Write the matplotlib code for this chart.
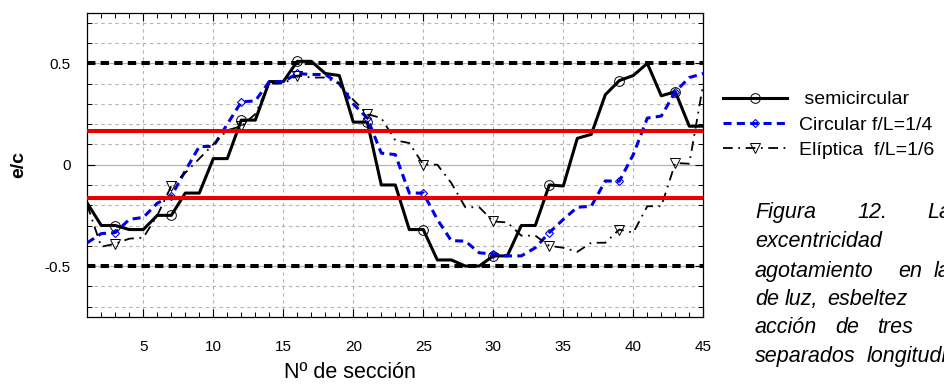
import numpy as np
import matplotlib
matplotlib.use("Agg")
import matplotlib.pyplot as plt
from matplotlib.ticker import MultipleLocator, FixedLocator

plt.rcParams['font.family'] = ['Liberation Sans', 'DejaVu Sans']
plt.rcParams['axes.unicode_minus'] = False
plt.rcParams['lines.scale_dashes'] = False

# datos
secciones = np.arange(1, 46)
semicircular = [-0.19, -0.30, -0.30, -0.32, -0.32, -0.25, -0.25, -0.14, -0.14, 0.03,
                0.03, 0.22, 0.22, 0.41, 0.41, 0.51, 0.51, 0.45, 0.44, 0.21,
                0.21, -0.10, -0.10, -0.32, -0.32, -0.47, -0.47, -0.50, -0.50, -0.45,
                -0.45, -0.30, -0.30, -0.10, -0.105, 0.13, 0.15, 0.345, 0.415, 0.44,
                0.50, 0.34, 0.36, 0.19, 0.19]
circular = [-0.385, -0.34, -0.335, -0.27, -0.26, -0.19, -0.155, -0.03, 0.09, 0.09,
            0.20, 0.31, 0.315, 0.41, 0.41, 0.45, 0.445, 0.445, 0.40, 0.30,
            0.23, 0.057, 0.05, -0.14, -0.14, -0.27, -0.375, -0.377, -0.435, -0.44,
            -0.45, -0.45, -0.41, -0.335, -0.27, -0.21, -0.205, -0.08, -0.082, 0.05,
            0.23, 0.24, 0.36, 0.43, 0.45]
eliptica = [-0.20, -0.405, -0.39, -0.365, -0.36, -0.25, -0.105, -0.04, 0.03, 0.10,
            0.17, 0.19, 0.25, 0.40, 0.40, 0.44, 0.43, 0.43, 0.40, 0.32,
            0.25, 0.23, 0.12, 0.107, 0.0, 0.0, -0.09, -0.21, -0.21, -0.28,
            -0.285, -0.35, -0.35, -0.40, -0.41, -0.43, -0.385, -0.385, -0.32, -0.335,
            -0.205, -0.205, 0.008, 0.005, 0.40]
marcas = [2, 6, 11, 15, 20, 24, 29, 33, 38, 42]
limites_rojos = [1 / 6, -1 / 6]
limites_negros = [0.5, -0.5]

W, H = 944, 385
fig = plt.figure(figsize=(W / 100, H / 100), dpi=100)
ax = fig.add_axes([87.3 / W, 1 - 316.7 / H, 616 / W, 304 / H])

ax.set_xlim(1, 45)
ax.set_ylim(-0.75, 0.75)
ax.xaxis.set_major_locator(FixedLocator([5, 10, 15, 20, 25, 30, 35, 40, 45]))
ax.xaxis.set_minor_locator(MultipleLocator(1))
ax.yaxis.set_major_locator(FixedLocator([-0.5, 0, 0.5]))
ax.yaxis.set_minor_locator(MultipleLocator(0.1))
ax.set_yticklabels(['-0.5', '0', '0.5'])

ax.tick_params(which='both', direction='in', top=True, right=True, colors='black')
ax.tick_params(which='major', length=6, width=0.8)
ax.tick_params(which='minor', length=3.5, width=0.7)
ax.tick_params(axis='x', pad=17, labelsize=11)
ax.tick_params(axis='y', pad=12, labelsize=11)
for s in ax.spines.values():
    s.set_linewidth(0.9)

# rejilla
ax.xaxis.grid(True, which='major', color='#b4b4b4', ls=(0, (2.5, 2.5)), lw=0.8)
ax.yaxis.grid(True, which='minor', color='#b4b4b4', ls=(0, (2.5, 2.5)), lw=0.8)
ax.yaxis.grid(True, which='major', color='#b4b4b4', ls='-', lw=0.9)
ax.set_axisbelow(True)

ax.plot(secciones, semicircular, color='black', lw=2.2, marker='o', ms=7,
        mfc='none', mec='black', mew=0.7, markevery=marcas, label=' semicircular', zorder=3)
ax.plot(secciones, circular, color='#0000e6', lw=2.2, dashes=(5.8, 3.8), marker='D', ms=4.3,
        mfc='none', mec='#0000e6', mew=0.8, markevery=marcas, label='Circular f/L=1/4', zorder=3)
ax.plot(secciones, eliptica, color='black', lw=1.3, dashes=(7, 4, 1.3, 4), marker='v', ms=7.5,
        mfc='none', mec='black', mew=0.7, markevery=marcas, label='Elíptica  f/L=1/6', zorder=3)

for y in limites_rojos:
    ax.axhline(y, color='#e60000', lw=2.9, zorder=4)
for y in limites_negros:
    ax.axhline(y, color='black', lw=2.9, dashes=(6, 3.8), zorder=4)

ax.set_xlabel('Nº de sección', fontsize=15.5)
ax.xaxis.set_label_coords((349.5 - 87.3) / 616, -(372 - 316.7) / 304)
ax.xaxis.label.set_va('center')
ax.set_ylabel('e/c', fontsize=14, fontweight='bold')
ax.yaxis.set_label_coords(-(87.3 - 19) / 616, 0.5)
ax.yaxis.label.set_va('center')

handles, labels = ax.get_legend_handles_labels()
fig.legend(handles, labels, loc='center left', bbox_to_anchor=(723 / W, 1 - 125 / H),
           frameon=False, fontsize=14, handlelength=3.3, handletextpad=0.6,
           labelspacing=0.4, borderpad=0, borderaxespad=0, numpoints=1)

# pie de figura (cortado por el borde derecho, como en el original)
pie = [
    (218, [(755, 'Figura'), (857, '12.'), (927, 'La')]),
    (247, [(755, 'excentricidad')]),
    (277, [(755, 'agotamiento'), (898, 'en'), (934, 'la')]),
    (305, [(755, 'de'), (785, 'luz,'), (827, 'esbeltez')]),
    (333, [(755, 'acción'), (835, 'de'), (877, 'tres')]),
    (362, [(755, 'separados'), (867, 'longitudinalmente')]),
]
for yb, palabras in pie:
    for xp, palabra in palabras:
        fig.text(xp / W, 1 - yb / H, palabra, fontsize=15.5, style='italic',
                 va='baseline', ha='left')

fig.savefig('out.png', dpi=100)
